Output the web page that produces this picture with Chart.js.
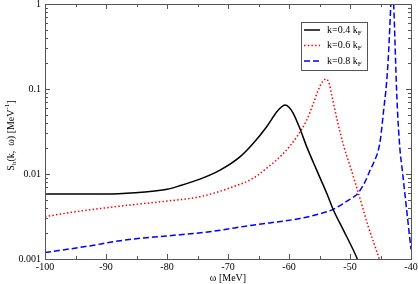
<!DOCTYPE html>
<html>
<head>
<meta charset="utf-8">
<script src="https://cdn.jsdelivr.net/npm/chart.js@4/dist/chart.umd.min.js"></script>
<style>
  html, body { margin: 0; padding: 0; background: #fff; }
  #wrap { width: 418px; height: 284px; }
</style>
</head>
<body>
<div id="wrap"><canvas id="chart" width="418" height="284"></canvas></div>
<script>
// spectral function S_h(k, w)
const omegaK04 = [-100, -95, -90, -85.2, -82, -80, -78.1, -74.6, -71.3, -68, -65.85, -63.66, -62, -61.3, -60.66, -60, -59.3, -58.2, -57.1, -55.46, -53.8, -52.74, -51.1, -48.8, -48];
const valsK04 = [0.0058, 0.0058, 0.0058, 0.006, 0.0063, 0.0066, 0.0072, 0.0087, 0.0111, 0.016, 0.023, 0.036, 0.054, 0.061, 0.0648, 0.061, 0.0518, 0.034, 0.021, 0.0111, 0.0059, 0.0038, 0.0022, 0.001, 0.0007];

const omegaK06 = [-100, -95, -90, -85, -80, -74.6, -69.1, -66, -63.66, -60.9, -58.7, -57.1, -56, -55.2, -54.5, -53.9, -53.4, -53, -52, -51, -50, -49, -48, -47, -46, -45.2, -44.8];
const valsK06 = [0.00315, 0.0036, 0.004, 0.0044, 0.0048, 0.0054, 0.0071, 0.0088, 0.0117, 0.0175, 0.0275, 0.043, 0.068, 0.097, 0.122, 0.131, 0.115, 0.085, 0.04, 0.021, 0.0125, 0.0073, 0.0042, 0.0024, 0.00148, 0.001, 0.0008];

const omegaK08 = [-100, -93.4, -86.9, -80, -73.8, -66, -58.2, -55, -52.74, -50.5, -49.5, -48.64, -47.5, -46.7, -46, -45.36, -45, -44.5, -44, -43.65, -43.3, -43.05, -42.84, -42.3, -41.8, -41.5, -40.9, -40];
const valsK08 = [0.00119, 0.0014, 0.00167, 0.00187, 0.00206, 0.0025, 0.003, 0.0034, 0.00384, 0.0048, 0.0053, 0.006, 0.0082, 0.0111, 0.0142, 0.019, 0.026, 0.055, 0.12, 0.29, 1.0, 2.0, 1.0, 0.075, 0.019, 0.0123, 0.005, 0.0013];

const seriesNames = ['k=0.4 k', 'k=0.6 k', 'k=0.8 k'];
const seriesSub = 'F';

const xTicks = [-100, -90, -80, -70, -60, -50, -40];
const xMinorTicks = [-95, -85, -75, -65, -55, -45];
const yTicks = [0.001, 0.01, 0.1, 1];
const yTickLabels = ['0.001', '0.01', '0.1', '1'];
const yMinorTicks = [];
[0.001, 0.01, 0.1].forEach(d => { for (let m = 2; m <= 9; m++) yMinorTicks.push(d * m); });

const FONT = '"Liberation Serif", "Times New Roman", serif';
const styles = [
  { color: '#000000', dash: [] },
  { color: '#ff0000', dash: [1.5, 2.2] },
  { color: '#0000ff', dash: [6, 3] }
];

function toPoints(xs, ys) {
  return xs.map((x, i) => ({ x: x, y: ys[i] }));
}

// text with optional sub/superscript pieces
function richWidth(ctx, parts) {
  let w = 0;
  parts.forEach(p => {
    ctx.font = (p.sub || p.sup ? 7 : 10) + 'px ' + FONT;
    w += ctx.measureText(p.t).width;
  });
  return w;
}
function drawRich(ctx, parts, x, y) {
  let cx = x;
  parts.forEach(p => {
    ctx.font = (p.sub || p.sup ? 7 : 10) + 'px ' + FONT;
    const dy = p.sub ? 3 : (p.sup ? -4 : 0);
    ctx.fillText(p.t, cx, y + dy);
    cx += ctx.measureText(p.t).width;
  });
}

const framePlugin = {
  id: 'frame',
  afterDraw(chart) {
    const ctx = chart.ctx;
    const a = chart.chartArea;
    const xs = chart.scales.x, ys = chart.scales.y;
    ctx.save();
    ctx.strokeStyle = '#555';
    ctx.lineWidth = 1;
    ctx.strokeRect(Math.round(a.left) + 0.5, Math.round(a.top) + 0.5, Math.round(a.right - a.left), Math.round(a.bottom - a.top));

    ctx.beginPath();
    const tick = (vals, len) => {
      vals.forEach(v => {
        const px = Math.round(xs.getPixelForValue(v)) + 0.5;
        ctx.moveTo(px, a.bottom); ctx.lineTo(px, a.bottom - len);
        ctx.moveTo(px, a.top); ctx.lineTo(px, a.top + len);
      });
    };
    const ytick = (vals, len) => {
      vals.forEach(v => {
        const py = Math.round(ys.getPixelForValue(v)) + 0.5;
        ctx.moveTo(a.left, py); ctx.lineTo(a.left + len, py);
        ctx.moveTo(a.right, py); ctx.lineTo(a.right - len, py);
      });
    };
    tick(xTicks, 5); tick(xMinorTicks, 3);
    ytick(yTicks, 5); ytick(yMinorTicks, 3);
    ctx.stroke();

    // tick labels
    ctx.fillStyle = '#000';
    ctx.font = '10px ' + FONT;
    ctx.textAlign = 'center';
    ctx.textBaseline = 'middle';
    xTicks.forEach(v => ctx.fillText(String(v), xs.getPixelForValue(v), a.bottom + 8));
    ctx.textAlign = 'right';
    yTicks.forEach((v, i) => ctx.fillText(yTickLabels[i], a.left - 4, ys.getPixelForValue(v)));

    // axis titles
    ctx.textAlign = 'left';
    ctx.textBaseline = 'middle';
    const xt = [{ t: '\u03c9 [MeV]' }];
    drawRich(ctx, xt, (a.left + a.right) / 2 - richWidth(ctx, xt) / 2, 278);

    const yt = [{ t: 'S' }, { t: 'h', sub: true }, { t: '(k,  \u03c9) [MeV' }, { t: '-1', sup: true }, { t: ']' }];
    ctx.save();
    ctx.translate(11, (a.top + a.bottom) / 2 + 4);
    ctx.rotate(-Math.PI / 2);
    drawRich(ctx, yt, -richWidth(ctx, yt) / 2, 0);
    ctx.restore();

    // legend box
    ctx.strokeStyle = '#555';
    ctx.strokeRect(301.5, 22.5, 66, 48);
    seriesNames.forEach((name, i) => {
      const y = 30 + i * 15.5;
      ctx.beginPath();
      ctx.strokeStyle = styles[i].color;
      ctx.lineWidth = 1.5;
      ctx.setLineDash(styles[i].dash);
      ctx.moveTo(304, y); ctx.lineTo(320, y);
      ctx.stroke();
      ctx.setLineDash([]);
      ctx.fillStyle = '#000';
      drawRich(ctx, [{ t: name }, { t: seriesSub, sub: true }], 327, y);
    });
    ctx.restore();
  }
};

const data = {
  datasets: [
    toPoints(omegaK04, valsK04),
    toPoints(omegaK06, valsK06),
    toPoints(omegaK08, valsK08)
  ].map((pts, i) => ({
    label: seriesNames[i] + seriesSub,
    data: pts,
    borderColor: styles[i].color,
    borderDash: styles[i].dash,
    borderWidth: 1.5,
    pointRadius: 0,
    fill: false,
    cubicInterpolationMode: 'monotone'
  }))
};

new Chart(document.getElementById('chart'), {
  type: 'line',
  data: data,
  options: {
    responsive: false,
    animation: false,
    layout: { padding: { top: 4, right: 7, left: 0, bottom: 0 } },
    plugins: { legend: { display: false }, tooltip: { enabled: false } },
    scales: {
      x: {
        type: 'linear', min: -100, max: -40,
        grid: { display: false }, border: { display: false },
        ticks: { display: false },
        afterFit: s => { s.height = 25; }
      },
      y: {
        type: 'logarithmic', min: 0.001, max: 1,
        grid: { display: false }, border: { display: false },
        ticks: { display: false },
        afterFit: s => { s.width = 45; }
      }
    }
  },
  plugins: [framePlugin]
});
</script>
</body>
</html>
